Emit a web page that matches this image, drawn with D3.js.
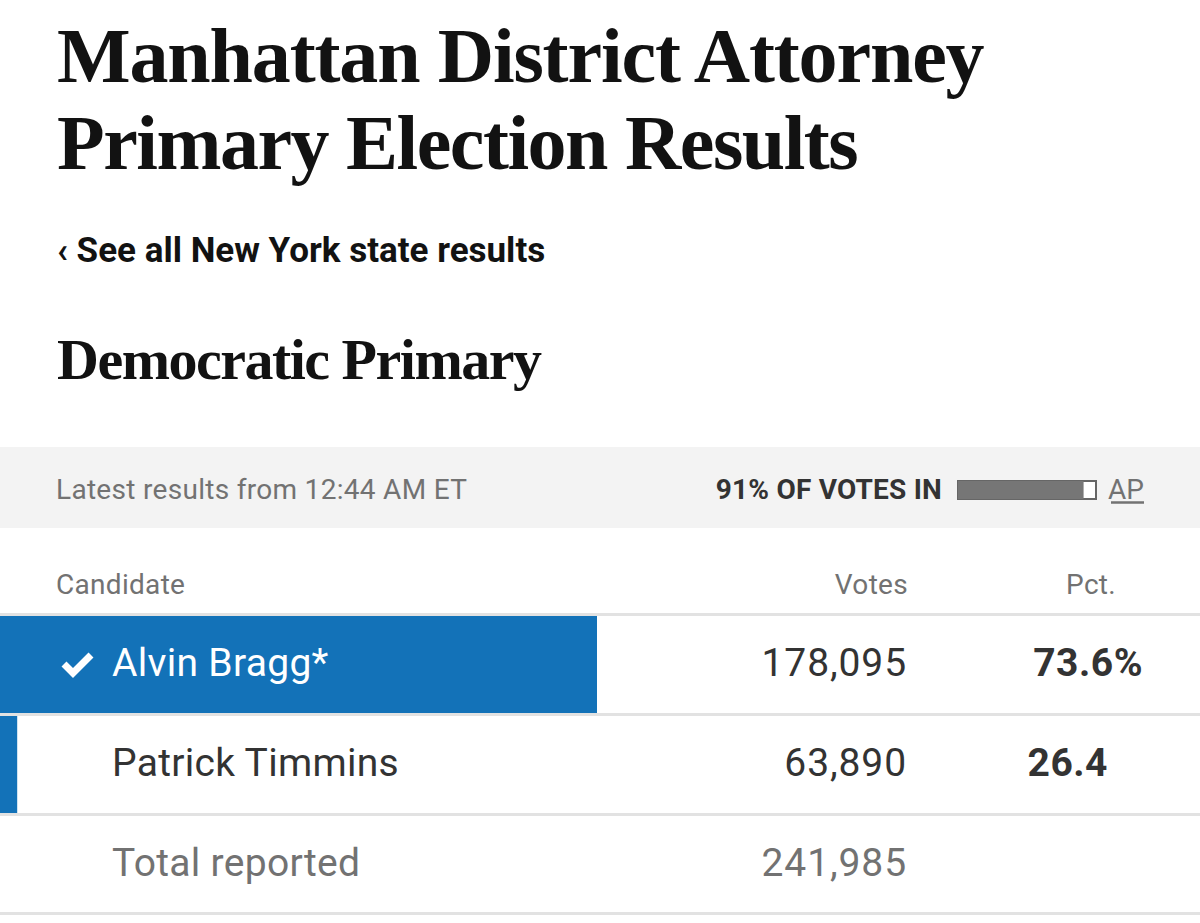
<!DOCTYPE html>
<html>
<head>
<meta charset="utf-8">
<script src="https://cdn.jsdelivr.net/npm/d3@7"></script>
<style>
  html, body { margin: 0; background: #fff; }
  svg { display: block; }
  .serif { font-family: "Liberation Serif", serif; font-weight: 700; fill: #121212; }
  .sans { font-family: Roboto, sans-serif; }
</style>
</head>
<body>
<svg id="chart" width="1200" height="923"></svg>
<script>
const candidates = ["Alvin Bragg*", "Patrick Timmins"];
const votes = [178095, 63890];
const pctLabels = ["73.6%", "26.4"];
const pctValues = [73.6, 26.4];
const totalVotes = 241985;
const votesIn = 91;

const svg = d3.select("#chart");
const fmt = d3.format(",");

// the source bars do not start at zero, the short one is only a stub
const x = d3.scaleLinear().domain([25, 73.6]).range([0, 597]);
const y = d3.scaleBand().domain(candidates).range([616, 816]);

function label(cls, xx, yy, size, fill, txt, anchor, spacing, weight) {
  return svg.append("text").attr("class", cls).attr("x", xx).attr("y", yy)
    .attr("font-size", size).attr("fill", fill)
    .attr("text-anchor", anchor || "start")
    .attr("letter-spacing", spacing || 0)
    .attr("font-weight", weight || 400)
    .text(txt);
}

// titles
label("serif", 57, 82, 78, "#121212", "Manhattan District Attorney", "start", -1.15, 700);
label("serif", 57, 169, 78, "#121212", "Primary Election Results", "start", -1.5, 700);
label("sans", 57, 262, 35, "#121212", "‹ See all New York state results", "start", 0, 700);
label("serif", 57, 379, 58, "#121212", "Democratic Primary", "start", -1.5, 700);

// status band
svg.append("rect").attr("x", 0).attr("y", 447).attr("width", 1200).attr("height", 81).attr("fill", "#f3f3f3");
label("sans", 56, 499, 28, "#727272", "Latest results from 12:44 AM ET", "start", 0.3);
label("sans", 942, 499, 28, "#333", votesIn + "% OF VOTES IN", "end", 0.2, 700);

// votes in progress bar
const prog = d3.scaleLinear().domain([0, 100]).range([958, 1096]);
svg.append("rect").attr("x", prog(0)).attr("y", 481).attr("width", prog(100) - prog(0)).attr("height", 18)
  .attr("fill", "#fff").attr("stroke", "#666").attr("stroke-width", 2);
svg.append("rect").attr("x", prog(0)).attr("y", 481).attr("width", prog(votesIn) - prog(0)).attr("height", 18).attr("fill", "#767676");
label("sans", 1144, 499, 28, "#727272", "AP", "end");
svg.append("line").attr("x1", 1111).attr("x2", 1144).attr("y1", 502.5).attr("y2", 502.5)
  .attr("stroke", "#727272").attr("stroke-width", 2.5);

// column headers
label("sans", 56, 594, 28, "#727272", "Candidate", "start", 0.3);
label("sans", 908, 594, 28, "#727272", "Votes", "end", 0.3);
label("sans", 1116, 594, 28, "#727272", "Pct.", "end", 0.3);

// rows
candidates.forEach((c, i) => {
  const top = y(c);
  svg.append("rect").attr("x", x(25)).attr("y", top).attr("width", x(pctValues[i]) - x(25))
    .attr("height", y.bandwidth() - 3).attr("fill", "#1372b8");
  label("sans", 112, top + 60, 39, i === 0 ? "#fff" : "#333", c, "start", 0.3);
  label("sans", 907, top + 60, 39, "#333", fmt(votes[i]), "end", 0.9);
  label("sans", i === 0 ? 1143 : 1108, top + 60, 39, "#333", pctLabels[i], "end", 0.5, 700);
});

// winner check mark
svg.append("path").attr("d", d3.line()([[64, 664], [73, 673], [91, 655]]))
  .attr("fill", "none").attr("stroke", "#fff").attr("stroke-width", 7);

// total row
label("sans", 112, 876, 39, "#727272", "Total reported", "start", 0.3);
label("sans", 907, 876, 39, "#727272", fmt(totalVotes), "end", 0.9);

// row rules
[614.5, 714.5, 814.5, 913.5].forEach(yy => {
  svg.append("line").attr("x1", 0).attr("x2", 1200).attr("y1", yy).attr("y2", yy)
    .attr("stroke", "#e2e2e2").attr("stroke-width", 3);
});
</script>
</body>
</html>
